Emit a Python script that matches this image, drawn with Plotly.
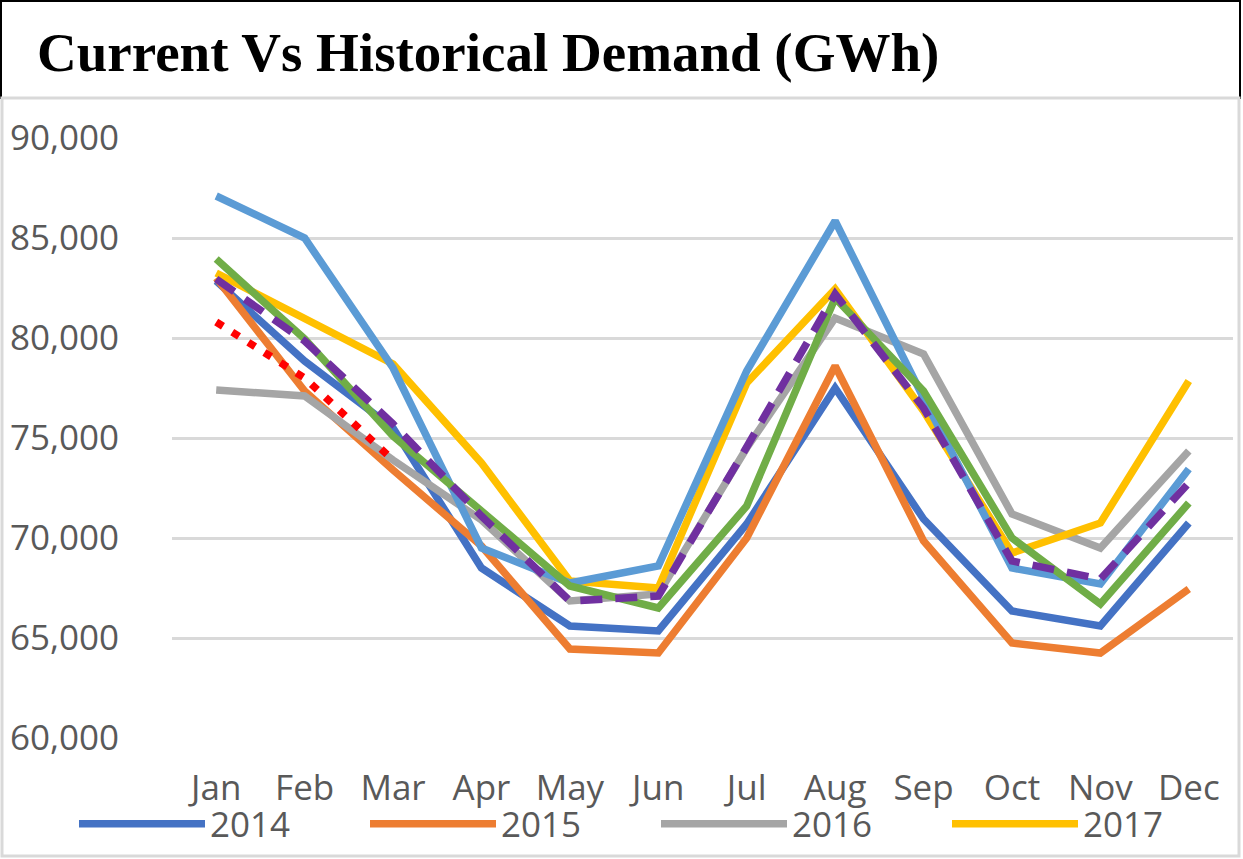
import plotly.graph_objects as go

months = ["Jan", "Feb", "Mar", "Apr", "May", "Jun", "Jul", "Aug", "Sep", "Oct", "Nov", "Dec"]

d2014 = [82850, 78850, 75500, 68500, 65600, 65350, 70700, 77500, 70950, 66350, 65600, 70750]
d2015 = [83000, 77350, 73400, 69600, 64450, 64250, 70000, 78600, 69850, 64750, 64250, 67450]
d2016 = [77400, 77100, 73900, 70900, 66850, 67200, 74500, 81000, 79200, 71200, 69500, 74350]
d2017 = [83250, 80950, 78700, 73750, 67850, 67500, 77750, 82450, 76350, 69250, 70750, 77850]
d2018 = [87100, 85000, 78500, 69500, 67750, 68600, 78350, 85850, 77000, 68500, 67700, 73450]
d2019 = [83950, 79950, 75100, 71300, 67600, 66500, 71600, 82000, 77350, 70000, 66700, 71750]
d_avg = [82950, 79850, 75700, 71100, 66850, 67100, 74550, 82200, 76500, 68850, 67950, 72750]
d_cur = [80800, 78000, 73900]

y_ticks = [60000, 65000, 70000, 75000, 80000, 85000, 90000]

series = [
    ("2014", d2014, "#4472C4", "solid", True),
    ("2015", d2015, "#ED7D31", "solid", True),
    ("2016", d2016, "#A5A5A5", "solid", True),
    ("2017", d2017, "#FFC000", "solid", True),
    ("2018", d2018, "#5B9BD5", "solid", False),
    ("2019", d2019, "#70AD47", "solid", False),
    ("Average", d_avg, "#7030A0", "22px,13px", False),
    ("2020", d_cur, "#FF0000", "8px,11px", False),
]

fig = go.Figure()
for name, vals, color, dash, show in series:
    fig.add_trace(go.Scatter(
        x=months[:len(vals)], y=vals, name=name, mode="lines",
        line=dict(color=color, width=7.5, dash=dash),
        showlegend=show,
    ))

W, H = 1243, 859
L, R, T, B = 172, 10, 138, 121
pw, ph = W - L - R, H - T - B

def px(x):
    return (x - L) / pw

def py(y):
    return (H - B - y) / ph

fig.update_layout(
    width=W, height=H,
    margin=dict(l=L, r=R, t=T, b=B, autoexpand=False),
    paper_bgcolor="white", plot_bgcolor="white",
    font=dict(family="Open Sans", color="#595959"),
    xaxis=dict(
        type="category", range=[-0.5, 11.5], showgrid=False, showline=False,
        zeroline=False, ticks="", tickfont=dict(size=35, color="#595959", family="Open Sans"),
        ticklabelstandoff=26,
    ),
    yaxis=dict(
        range=[60000, 90000], tickvals=y_ticks, tickformat=",", showgrid=True,
        gridcolor="#D9D9D9", gridwidth=2.5, zeroline=False, showline=False, ticks="",
        tickfont=dict(size=35, color="#595959", family="Open Sans"),
        ticklabelstandoff=52,
    ),
    legend=dict(
        orientation="h", x=px(74), xanchor="left", y=py(824), yanchor="middle",
        font=dict(size=35, color="#595959", family="Open Sans"),
        itemwidth=126, entrywidth=150, bgcolor="rgba(0,0,0,0)",
    ),
    showlegend=True,
)

fig.add_shape(type="rect", xref="paper", yref="paper",
              x0=px(1), x1=px(1240), y0=py(98), y1=py(1),
              line=dict(color="black", width=2), fillcolor="rgba(0,0,0,0)", layer="above")
fig.add_shape(type="rect", xref="paper", yref="paper",
              x0=px(2), x1=px(1239), y0=py(856), y1=py(98),
              line=dict(color="#D9D9D9", width=3), fillcolor="rgba(0,0,0,0)", layer="above")

fig.add_annotation(
    text="<b>Current Vs Historical Demand (GWh)</b>", xref="paper", yref="paper",
    x=px(35), y=py(52), xanchor="left", yanchor="middle", showarrow=False,
    font=dict(family="Liberation Serif", size=55, color="black"),
)

fig.write_html("out.html", config={"displayModeBar": False},
               post_script="document.body.style.margin='0';document.body.style.overflow='hidden';")
